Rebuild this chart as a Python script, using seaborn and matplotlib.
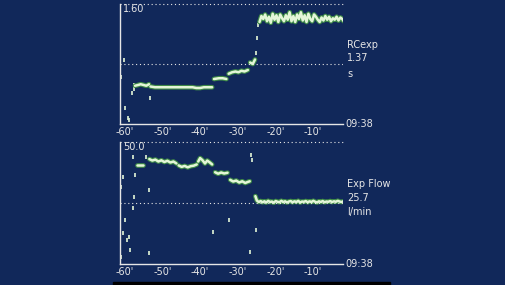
import numpy as np
import pandas as pd
import matplotlib
matplotlib.use("Agg")
import matplotlib.pyplot as plt
import seaborn as sns

# ---------------- data ----------------
# RCexp (s), main trace segments: time in minutes before 09:38
rc_t_a = [-57.3, -56.5, -55.8, -55.0, -54.3, -53.6]
rc_v_a = [0.51, 0.52, 0.53, 0.52, 0.51, 0.53]
rc_t_b = [-53.2, -52.0, -50.0, -48.0, -46.0, -44.0, -42.0, -41.0, -40.0, -39.0, -38.0, -36.8]
rc_v_b = [0.50, 0.49, 0.49, 0.49, 0.49, 0.49, 0.49, 0.48, 0.48, 0.49, 0.49, 0.49]
rc_t_c = [-36.3, -35.0, -34.0, -33.0]
rc_v_c = [0.60, 0.61, 0.61, 0.60]
rc_t_d = [-32.4, -31.5, -30.6, -29.8, -29.0, -28.2, -27.3]
rc_v_d = [0.67, 0.69, 0.70, 0.69, 0.71, 0.70, 0.72]
rc_t_e = [-26.7, -26.0, -25.4]
rc_v_e = [0.82, 0.80, 0.86]
rc_t_f = [-24.2, -23.7, -23.2, -22.7, -22.2, -21.7, -21.2, -20.7, -20.2, -19.7,
          -19.2, -18.7, -18.2, -17.7, -17.2, -16.7, -16.2, -15.7, -15.2, -14.7,
          -14.2, -13.7, -13.2, -12.7, -12.2, -11.7, -11.2, -10.7, -10.2, -9.7,
          -9.2, -8.7, -8.2, -7.7, -7.2, -6.7, -6.2, -5.7, -5.2, -4.7,
          -4.2, -3.7, -3.2, -2.7, -2.2, -1.8]
rc_v_f = [1.36, 1.44, 1.40, 1.46, 1.37, 1.43, 1.35, 1.47, 1.39, 1.45,
          1.36, 1.46, 1.41, 1.37, 1.45, 1.39, 1.49, 1.37, 1.44, 1.36,
          1.46, 1.40, 1.49, 1.38, 1.45, 1.36, 1.47, 1.40, 1.37, 1.46,
          1.43, 1.39, 1.36, 1.42, 1.38, 1.44, 1.39, 1.43, 1.37, 1.41,
          1.39, 1.43, 1.38, 1.42, 1.40, 1.37]
rc_pts_t = [-61.3, -61.1, -60.3, -59.9, -59.3, -58.9, -58.2, -57.6, -57.5, -53.4, -25.1, -24.8, -24.5]
rc_pts_v = [0.65, 0.63, 0.85, 0.21, 0.08, 0.05, 0.41, 0.47, 0.52, 0.35, 0.95, 1.15, 1.32]

# Exp Flow (l/min)
ef_t_1 = [-56.8, -56.0, -55.2]
ef_v_1 = [40.6, 40.6, 40.6]
ef_t_2 = [-53.5, -52.7, -51.9, -51.1, -50.3, -49.5, -48.7, -47.9, -47.1, -46.3]
ef_v_2 = [43.0, 42.4, 42.8, 42.0, 42.5, 41.8, 42.3, 41.6, 42.0, 41.2]
ef_t_3 = [-45.7, -44.9, -44.1, -43.3, -42.5, -41.7, -40.9]
ef_v_3 = [40.4, 39.8, 40.2, 39.6, 40.1, 40.3, 40.8]
ef_t_4 = [-40.5, -40.0, -39.4, -38.7, -38.1, -37.4, -36.8]
ef_v_4 = [42.0, 43.4, 42.6, 41.2, 42.4, 41.6, 40.8]
ef_t_5 = [-36.0, -35.2, -34.4, -33.6, -32.7]
ef_v_5 = [37.6, 37.0, 37.5, 37.1, 37.4]
ef_t_6 = [-32.0, -31.2, -30.4, -29.6, -28.8, -28.0, -27.2, -26.8]
ef_v_6 = [34.5, 33.8, 34.2, 33.4, 33.9, 33.2, 33.7, 33.9]
ef_t_7 = [-25.3, -24.9, -24.4, -23.9, -23.4, -22.9, -22.4, -21.9, -21.4, -20.9,
          -20.4, -19.9, -19.4, -18.9, -18.4, -17.9, -17.4, -16.9, -16.4, -15.9,
          -15.4, -14.9, -14.4, -13.9, -13.4, -12.9, -12.4, -11.9, -11.4, -10.9,
          -10.4, -9.9, -9.4, -8.9, -8.4, -7.9, -7.4, -6.9, -6.4, -5.9,
          -5.4, -4.9, -4.4, -3.9, -3.4, -2.9, -2.4, -1.9]
ef_v_7 = [27.8, 26.0, 25.4, 25.8, 25.3, 25.7, 25.2, 25.9, 25.4, 25.6,
          25.1, 25.8, 25.5, 25.3, 25.9, 25.4, 25.7, 25.2, 25.6, 25.8,
          25.3, 25.7, 25.4, 25.9, 25.2, 25.6, 25.5, 25.8, 25.3, 25.7,
          25.4, 25.9, 25.5, 25.2, 25.7, 25.4, 25.8, 25.3, 25.6, 25.5,
          25.8, 25.4, 25.7, 25.5, 25.9, 25.6, 25.4, 25.7]
ef_pts_t = [-60.5, -61.0, -57.9, -57.3, -57.7, -57.9, -60.0, -60.5, -59.5, -59.0,
            -58.7, -61.1, -53.6, -53.6, -54.4, -36.6, -32.3, -26.5, -26.3, -26.6, -25.2]
ef_pts_v = [35.7, 31.6, 43.9, 36.5, 27.5, 23.0, 18.0, 12.7, 9.8, 11.0,
            5.7, 2.9, 30.3, 4.5, 44.0, 13.1, 18.0, 44.7, 42.6, 4.9, 13.9]

x_labels = ["-60'", "-50'", "-40'", "-30'", "-20'", "-10'"]
x_ticks = [-60, -50, -40, -30, -20, -10]
time_label = "09:38"
panels = [
    {"name": "RCexp", "value": "1.37", "unit": "s", "ymax": 1.60, "top": "1.60"},
    {"name": "Exp Flow", "value": "25.7", "unit": "l/min", "ymax": 50.0, "top": "50.0"},
]

# ---------------- styling ----------------
BG = "#11285a"
FG = "#e6e6e6"
LINE = "#e4f6d8"
W, H = 506, 285
FS = 7

def segs_df(pairs):
    rows = []
    for i, (t, v) in enumerate(pairs):
        for a, b in zip(t, v):
            rows.append({"t": a, "v": b, "seg": i})
    return pd.DataFrame(rows)

rc_df = segs_df([(rc_t_a, rc_v_a), (rc_t_b, rc_v_b), (rc_t_c, rc_v_c),
                 (rc_t_d, rc_v_d), (rc_t_e, rc_v_e), (rc_t_f, rc_v_f)])
ef_df = segs_df([(ef_t_1, ef_v_1), (ef_t_2, ef_v_2), (ef_t_3, ef_v_3),
                 (ef_t_4, ef_v_4), (ef_t_5, ef_v_5), (ef_t_6, ef_v_6),
                 (ef_t_7, ef_v_7)])
rc_pts = pd.DataFrame({"t": rc_pts_t, "v": rc_pts_v})
ef_pts = pd.DataFrame({"t": ef_pts_t, "v": ef_pts_v})

sns.set_theme(style="dark")
plt.rcParams["font.family"] = ["DejaVu Sans"]

fig = plt.figure(figsize=(W / 100, H / 100), dpi=100)
fig.patch.set_facecolor(BG)

def px_axes(x0, y0, x1, y1):
    return fig.add_axes([x0 / W, 1 - y1 / H, (x1 - x0) / W, (y1 - y0) / H])

ax_top = px_axes(120, 4, 343, 124)
ax_bot = px_axes(120, 142, 343, 264)

for ax, df, pts, p in [(ax_top, rc_df, rc_pts, panels[0]), (ax_bot, ef_df, ef_pts, panels[1])]:
    ax.set_facecolor(BG)
    ymax = p["ymax"]
    # glow/outline then bright line
    sns.lineplot(data=df, x="t", y="v", units="seg", estimator=None, ax=ax,
                 color="#3f8a48", lw=3.4, legend=False, sort=False)
    sns.lineplot(data=df, x="t", y="v", units="seg", estimator=None, ax=ax,
                 color=LINE, lw=1.8, legend=False, sort=False)
    sns.scatterplot(data=pts, x="t", y="v", ax=ax, color=LINE, s=6,
                    marker="|", linewidth=1.2, legend=False)
    ax.set_xlim(-61.3, -2.0)
    ax.set_ylim(0, ymax)
    ax.axhline(ymax, color=FG, ls=(0, (1, 2.5)), lw=0.8, clip_on=False)
    ax.axhline(ymax / 2, color=FG, ls=(0, (1, 2.5)), lw=0.8)
    for s in ["top", "right"]:
        ax.spines[s].set_visible(False)
    for s in ["left", "bottom"]:
        ax.spines[s].set_visible(True)
        ax.spines[s].set_color(FG)
        ax.spines[s].set_linewidth(1.0)
    ax.set_xticks(x_ticks)
    ax.set_xticklabels(x_labels)
    ax.set_xticks(np.arange(-61, -2, 1), minor=True)
    ax.tick_params(axis="x", which="major", direction="in", length=4, width=0.8,
                   colors=FG, labelsize=FS, pad=2)
    ax.tick_params(axis="x", which="minor", direction="in", length=2.5, width=0.6,
                   colors=FG)
    ax.set_yticks([ymax / 2, ymax])
    ax.set_yticklabels([])
    ax.tick_params(axis="y", which="major", direction="out", length=3, width=0.8,
                   colors=FG)
    ax.set_xlabel("")
    ax.set_ylabel("")
    ax.grid(False)
    ax.text(0.015, 1.0, p["top"], transform=ax.transAxes, color=FG, fontsize=FS,
            ha="left", va="top")
    ax.text(1.012, 0.0, time_label, transform=ax.transAxes, color=FG, fontsize=FS,
            ha="left", va="center")

# right-hand labels
fig.text(347 / W, 1 - 45 / H, panels[0]["name"], color=FG, fontsize=FS, ha="left", va="center")
fig.text(347 / W, 1 - 58 / H, panels[0]["value"], color=FG, fontsize=FS, ha="left", va="center")
fig.text(347 / W, 1 - 74 / H, panels[0]["unit"], color=FG, fontsize=FS, ha="left", va="center")
fig.text(347 / W, 1 - 184 / H, panels[1]["name"], color=FG, fontsize=FS, ha="left", va="center")
fig.text(347 / W, 1 - 198 / H, panels[1]["value"], color=FG, fontsize=FS, ha="left", va="center")
fig.text(347 / W, 1 - 212 / H, panels[1]["unit"], color=FG, fontsize=FS, ha="left", va="center")

# black strip at bottom
fig.patches.append(plt.Rectangle((113 / W, 0), (390 - 113) / W, 3 / H,
                                 transform=fig.transFigure, color="black", zorder=0))

fig.savefig("out.png", dpi=100, facecolor=BG)
